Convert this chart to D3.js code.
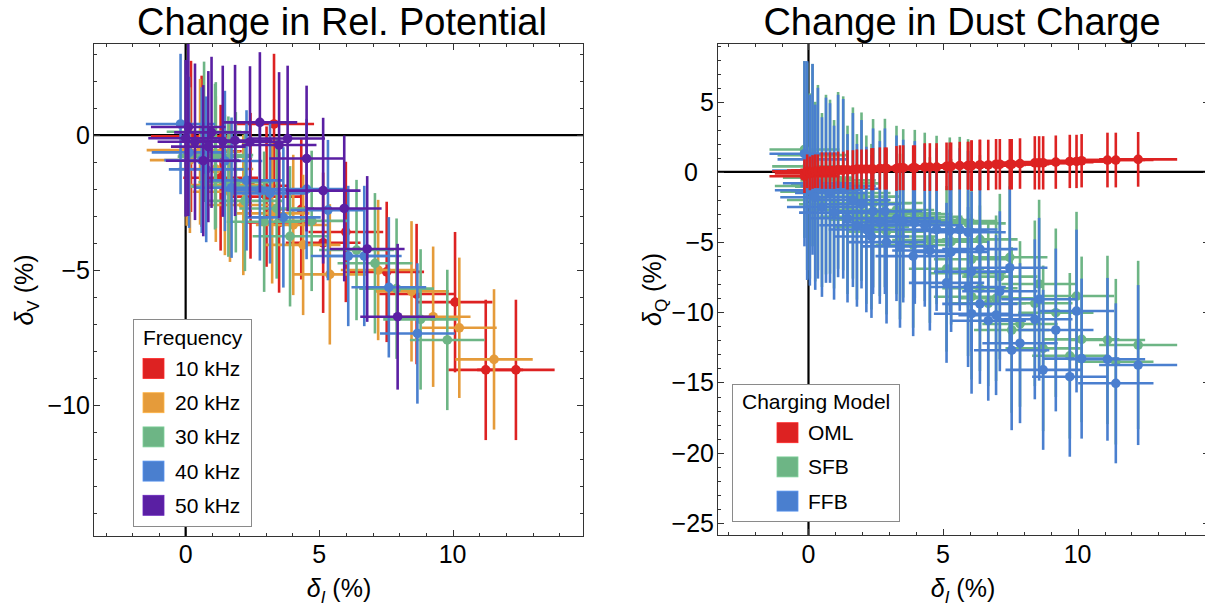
<!DOCTYPE html>
<html><head><meta charset="utf-8">
<script src="https://cdn.jsdelivr.net/npm/d3@7"></script>
<style>
body{margin:0;background:#fff}
svg{font-family:"Liberation Sans",Arial,sans-serif;display:block}
</style></head>
<body><svg id="c" width="1205" height="611"></svg>
<script>
// ---------------- LEFT PANEL DATA (delta_I %, delta_V %) ----------------
const freqLabels = ["10 kHz","20 kHz","30 kHz","40 kHz","50 kHz"];
const freqColors = ["#DD2222","#E59B3A","#6DB585","#4A7FCF","#5A1FA3"];

const f10_dI    = [0.20,0.60,1.31,2.43,3.03,3.31,3.50,4.33,5.15,6.00,7.53,8.65,10.09,11.24,12.37];
const f10_dV    = [-0.05,-0.60,-1.58,-1.88,-2.28,0.41,-3.24,-2.75,-3.99,-3.59,-5.07,-5.89,-6.19,-8.70,-8.70];
const f10_dIerr = [1.5,1.5,1.4,1.4,1.4,1.5,1.4,1.4,1.4,1.4,1.4,1.4,1.4,1.4,1.45];
const f10_dVerr = [2.8,2.8,2.7,2.7,2.6,2.6,2.6,2.6,2.6,2.6,2.6,2.6,2.6,2.6,2.6];

const f20_dI    = [0.04,0.16,0.54,1.13,1.47,1.66,2.16,3.24,4.03,4.40,5.40,7.21,8.46,9.27,10.25,11.55];
const f20_dV    = [-0.56,-0.93,-0.62,-1.26,-1.85,-2.10,-2.59,-2.90,-3.33,-4.07,-5.16,-5.00,-5.79,-6.73,-7.14,-8.31];
const f20_dIerr = [1.5,1.5,1.5,1.4,1.4,1.4,1.4,1.4,1.4,1.4,1.4,1.4,1.4,1.4,1.4,1.45];
const f20_dVerr = [2.8,2.7,2.7,2.7,2.6,2.6,2.6,2.6,2.6,2.6,2.6,2.6,2.6,2.6,2.6,2.6];

const f30_dI    = [0.69,1.10,1.13,1.60,1.88,2.22,2.94,3.41,3.91,4.72,6.40,7.09,7.90,8.80,9.80];
const f30_dV    = [0.12,-0.80,-0.74,-1.91,-1.75,-2.44,-3.21,-2.72,-3.75,-3.18,-4.26,-4.75,-5.69,-6.83,-7.59];
const f30_dIerr = [1.4,1.4,1.4,1.4,1.4,1.4,1.4,1.4,1.4,1.4,1.4,1.4,1.4,1.4,1.4];
const f30_dVerr = [2.6,2.7,2.7,2.6,2.6,2.6,2.6,2.6,2.6,2.6,2.6,2.6,2.6,2.6,2.6];

const f40_dI    = [-0.19,0.13,0.60,0.77,1.47,1.72,2.28,2.78,3.16,3.66,4.53,5.33,6.09,6.69,7.61,8.68];
const f40_dV    = [0.41,-0.64,-0.93,-1.27,-0.96,-1.95,-1.68,-2.05,-2.16,-3.05,-2.00,-2.78,-4.48,-4.48,-5.64,-7.35];
const f40_dIerr = [1.3,1.4,1.4,1.4,1.4,1.4,1.4,1.4,1.4,1.4,1.4,1.4,1.4,1.4,1.4,1.4];
const f40_dVerr = [2.6,2.8,2.7,2.7,2.6,2.6,2.6,2.6,2.6,2.6,2.6,2.6,2.6,2.6,2.6,2.6];

const f50_dI    = [0.00,0.10,0.35,0.66,0.85,0.97,1.39,1.85,2.41,2.78,3.50,3.82,4.53,5.15,5.94,6.80,7.94];
const f50_dV    = [-0.12,0.30,-0.25,-0.95,-0.43,0.10,-0.23,-0.20,-0.25,0.47,-0.37,-0.13,-0.87,-2.06,-2.72,-4.22,-6.73];
const f50_dIerr = [1.4,1.4,1.4,1.4,1.4,1.4,1.4,1.4,1.4,1.4,1.4,1.4,1.4,1.4,1.4,1.4,1.4];
const f50_dVerr = [2.9,3.3,2.9,2.8,2.8,2.8,2.8,2.8,2.8,2.6,2.7,2.7,2.7,2.7,2.7,2.7,2.7];

// ---------------- RIGHT PANEL DATA (delta_I %, delta_Q % per charging model) ----------------
const modelLabels = ["OML","SFB","FFB"];
const modelColors = ["#DD2222","#6DB585","#4A7FCF"];

const q_dI    = [-0.15,-0.05,0.05,0.15,0.25,0.35,0.50,0.65,0.80,0.95,1.10,1.29,1.45,1.65,1.80,1.97,2.15,2.34,2.40,2.65,2.84,2.90,3.27,3.40,3.52,3.89,3.95,4.32,4.51,4.76,5.13,5.25,5.30,5.62,5.93,5.93,6.06,6.06,6.37,6.37,6.68,6.97,7.11,7.48,7.55,7.86,8.41,8.57,8.72,9.19,9.71,9.96,10.15,11.11,11.42,12.25];
const q_dIerr = [1.3,1.3,1.3,1.3,1.3,1.3,1.3,1.3,1.3,1.3,1.4,1.4,1.4,1.4,1.4,1.4,1.4,1.4,1.4,1.4,1.4,1.4,1.4,1.4,1.4,1.4,1.4,1.4,1.4,1.4,1.4,1.4,1.4,1.4,1.4,1.4,1.4,1.4,1.4,1.4,1.4,1.4,1.4,1.4,1.4,1.4,1.4,1.4,1.4,1.4,1.4,1.4,1.4,1.4,1.4,1.45];
const q_OML   = [-0.30,0.05,-0.10,0.00,0.05,0.05,0.10,0.10,0.10,0.10,0.15,0.15,0.15,0.15,0.20,0.20,0.20,0.20,0.20,0.25,0.25,0.25,0.25,0.30,0.30,0.30,0.30,0.35,0.35,0.35,0.40,0.40,0.40,0.45,0.45,0.45,0.45,0.45,0.50,0.50,0.50,0.55,0.55,0.55,0.55,0.60,0.65,0.65,0.65,0.70,0.75,0.75,0.80,0.85,0.85,0.90];
const q_OMLerr= [1.2,1.2,1.2,1.2,1.2,1.2,1.3,1.3,1.3,1.3,1.3,1.3,1.4,1.4,1.4,1.4,1.4,1.5,1.5,1.5,1.5,1.5,1.6,1.6,1.6,1.6,1.6,1.7,1.7,1.7,1.7,1.7,1.7,1.7,1.7,1.7,1.8,1.8,1.8,1.8,1.8,1.8,1.8,1.8,1.8,1.8,1.9,1.9,1.9,1.9,1.9,1.9,1.9,1.95,1.95,1.95];
const q_SFB   = [1.60,0.40,-1.00,1.20,-1.40,-0.40,-2.00,-0.90,-1.05,-2.30,-0.60,-0.81,-2.70,-1.50,-3.20,-1.76,-3.40,-3.90,-2.23,-2.95,-2.21,-4.25,-2.71,-4.60,-2.95,-5.20,-3.00,-3.20,-4.85,-3.42,-6.90,-3.54,-4.97,-3.50,-3.66,-7.22,-6.22,-8.89,-4.80,-8.29,-9.36,-9.00,-7.46,-6.08,-11.26,-10.83,-9.36,-7.98,-12.57,-10.03,-13.10,-8.84,-11.93,-11.97,-13.52,-12.33];
const q_SFBerr= [6.3,7.4,6.6,6.5,6.4,6.6,6.2,6.4,6.2,6.0,6.3,6.2,6.0,6.1,5.9,6.0,6.0,5.9,6.0,5.9,6.0,5.9,6.0,5.9,6.0,5.9,6.0,6.0,5.9,6.0,5.9,6.0,5.9,6.0,6.0,5.9,5.9,5.9,6.0,5.9,5.9,5.9,5.9,6.0,5.9,5.9,5.9,6.0,5.9,6.0,5.9,6.0,5.9,6.0,5.9,6.0];
const q_FFB   = [1.30,0.10,-1.30,0.90,-1.80,-0.80,-2.50,-1.30,-1.50,-2.90,-1.00,-1.20,-3.30,-2.00,-3.80,-2.30,-4.10,-4.60,-2.80,-3.60,-2.80,-5.00,-3.30,-5.30,-3.50,-6.00,-3.60,-3.80,-5.60,-4.10,-7.90,-4.20,-5.70,-4.10,-4.30,-8.20,-7.10,-10.10,-5.50,-9.40,-10.60,-10.20,-8.50,-6.82,-12.70,-12.20,-10.50,-9.07,-14.10,-11.26,-14.59,-9.91,-13.30,-13.35,-15.06,-13.76];
const q_FFBerr= [6.6,7.8,6.8,6.8,6.6,6.8,6.4,6.6,6.4,6.2,6.5,6.4,6.0,6.2,5.8,6.0,5.9,5.8,5.9,5.8,5.9,5.8,5.9,5.8,5.8,5.7,5.8,5.8,5.7,5.8,5.7,5.8,5.7,5.8,5.8,5.7,5.7,5.7,5.8,5.7,5.7,5.7,5.7,5.8,5.7,5.7,5.7,5.8,5.7,5.8,5.7,5.8,5.7,5.8,5.7,5.7];

// ---------------- TICKS / TEXT ----------------
const leftXMajor = [0,5,10], leftYMajor = [-10,-5,0];
const rightXMajor = [0,5,10], rightYMajor = [-25,-20,-15,-10,-5,0,5];
const leftTitle = "Change in Rel. Potential", rightTitle = "Change in Dust Charge";
const leftLegendTitle = "Frequency", rightLegendTitle = "Charging Model";

// ---------------- DRAWING ----------------
const svg = d3.select("#c");
const fmt = v => v < 0 ? "\u2212" + Math.abs(v) : String(v);

function makeSeries(xs, ys, xe, ye){ return xs.map((x,i)=>({x, y:ys[i], xe:xe[i], ye:ye[i]})); }

function panel(cfg){
  const x = d3.scaleLinear().domain(cfg.xd).range(cfg.xr);
  const y = d3.scaleLinear().domain(cfg.yd).range(cfg.yr);
  const [x0,x1] = cfg.xr, [y1,y0] = cfg.yr;
  const g = svg.append("g");
  const cid = "clip" + cfg.id;
  svg.append("clipPath").attr("id", cid).append("rect")
    .attr("x", x0).attr("y", y0).attr("width", x1-x0).attr("height", y1-y0);

  const ax = g.append("g").attr("clip-path", `url(#${cid})`);
  ax.append("line").attr("x1", x0).attr("x2", x1).attr("y1", y(0)).attr("y2", y(0))
    .attr("stroke", "#000").attr("stroke-width", 2.2);
  ax.append("line").attr("x1", x(0)).attr("x2", x(0)).attr("y1", y0).attr("y2", y1)
    .attr("stroke", "#000").attr("stroke-width", 2.2);

  const dg = g.append("g").attr("clip-path", `url(#${cid})`);
  cfg.series.forEach(s => {
    const sg = dg.append("g");
    sg.selectAll("line.h").data(s.pts).join("line").attr("class","h")
      .attr("x1", d=>x(d.x-d.xe)).attr("x2", d=>x(d.x+d.xe))
      .attr("y1", d=>y(d.y)).attr("y2", d=>y(d.y))
      .attr("stroke", s.color).attr("stroke-width", 2.6);
    sg.selectAll("line.v").data(s.pts).join("line").attr("class","v")
      .attr("x1", d=>x(d.x)).attr("x2", d=>x(d.x))
      .attr("y1", d=>y(d.y-d.ye)).attr("y2", d=>y(d.y+d.ye))
      .attr("stroke", s.color).attr("stroke-width", 2.6);
    sg.selectAll("circle").data(s.pts).join("circle")
      .attr("cx", d=>x(d.x)).attr("cy", d=>y(d.y)).attr("r", 4.8)
      .attr("fill", s.color);
  });

  const fg = g.append("g").attr("stroke", "#333").attr("stroke-width", 1).attr("fill","none");
  fg.append("rect").attr("x", x0+0.5).attr("y", y0+0.5).attr("width", x1-x0-1).attr("height", y1-y0-1);
  const xMinor = d3.range(Math.ceil(cfg.xd[0]), Math.floor(cfg.xd[1])+1);
  const yMinor = d3.range(Math.ceil(cfg.yd[0]), Math.floor(cfg.yd[1])+1);
  const tl = v => cfg.xMajor.includes(v) ? 7 : 4;
  const tly = v => cfg.yMajor.includes(v) ? 7 : 4;
  xMinor.forEach(v => {
    const px = Math.round(x(v))+0.5;
    fg.append("line").attr("x1",px).attr("x2",px).attr("y1",y1).attr("y2",y1-tl(v));
    fg.append("line").attr("x1",px).attr("x2",px).attr("y1",y0).attr("y2",y0+tl(v));
  });
  yMinor.forEach(v => {
    const py = Math.round(y(v))+0.5;
    fg.append("line").attr("y1",py).attr("y2",py).attr("x1",x0).attr("x2",x0+tly(v));
    fg.append("line").attr("y1",py).attr("y2",py).attr("x1",x1).attr("x2",x1-tly(v));
  });

  g.selectAll("text.xt").data(cfg.xMajor).join("text").attr("class","xt")
    .attr("x", d=>x(d)).attr("y", 563).attr("text-anchor","middle")
    .attr("font-size", 25).text(fmt);
  g.selectAll("text.yt").data(cfg.yMajor).join("text").attr("class","yt")
    .attr("x", d => x0 - 3 - (d === 0 ? cfg.zeroShift : 0)).attr("y", d=>y(d)+9).attr("text-anchor","end")
    .attr("font-size", 25).text(fmt);

  g.append("text").attr("x", cfg.titleX).attr("y", 35)
    .attr("text-anchor","middle").attr("font-size", 38).text(cfg.title);

  const xl = g.append("text").attr("x", cfg.xLabelX).attr("y", 597).attr("text-anchor","middle").attr("font-size", 25);
  xl.append("tspan").attr("font-style","italic").text("\u03B4");
  xl.append("tspan").attr("font-style","italic").attr("font-size",17).attr("dy",6).text("I");
  xl.append("tspan").attr("dy",-6).text(" (%)");

  const yl = g.append("text").attr("transform", `translate(${cfg.yLabelX},${(y0+y1)/2}) rotate(-90)`)
    .attr("text-anchor","middle").attr("dy", "0.35em").attr("font-size", 25);
  yl.append("tspan").attr("font-style","italic").text("\u03B4");
  yl.append("tspan").attr("font-size",17).attr("dy",6).text(cfg.ySub);
  yl.append("tspan").attr("dy",-6).text(" (%)");

  const L = cfg.legend;
  const lg = g.append("g");
  lg.append("rect").attr("x", L.x+0.5).attr("y", L.y+0.5).attr("width", L.w).attr("height", L.h)
    .attr("fill","#fff").attr("stroke","#8a8a8a").attr("stroke-width",1);
  lg.append("text").attr("x", L.tx).attr("y", L.ty).attr("font-size", 21).text(L.title);
  L.items.forEach((it,i) => {
    const cy = L.y0 + i*L.dy;
    lg.append("rect").attr("x", L.sx).attr("y", cy-10).attr("width", 21).attr("height", 20)
      .attr("fill", it.color).attr("stroke", d3.color(it.color).brighter(0.4)).attr("stroke-width", 0.8);
    lg.append("text").attr("x", L.lx).attr("y", cy+7.5).attr("font-size", 21).text(it.label);
  });
}

const leftSeries = [
  makeSeries(f10_dI,f10_dV,f10_dIerr,f10_dVerr),
  makeSeries(f20_dI,f20_dV,f20_dIerr,f20_dVerr),
  makeSeries(f30_dI,f30_dV,f30_dIerr,f30_dVerr),
  makeSeries(f40_dI,f40_dV,f40_dIerr,f40_dVerr),
  makeSeries(f50_dI,f50_dV,f50_dIerr,f50_dVerr)
].map((pts,i)=>({pts, color: freqColors[i]}));

panel({
  id: "L", xd: [-3.47, 14.92], xr: [93, 584], yd: [-14.89, 3.41], yr: [537, 43],
  xMajor: leftXMajor, yMajor: leftYMajor, series: leftSeries, zeroShift: 0,
  title: leftTitle, titleX: 342, xLabelX: 339, yLabelX: 24, ySub: "V",
  legend: {x:133, y:319, w:118, h:207, title:leftLegendTitle, tx:143, ty:345,
    sx:143, lx:175, y0:368.5, dy:34.2,
    items: freqLabels.map((l,i)=>({label:l, color:freqColors[i]}))}
});

const rightSeriesByModel = [
  makeSeries(q_dI,q_OML,q_dIerr,q_OMLerr),
  makeSeries(q_dI,q_SFB,q_dIerr,q_SFBerr),
  makeSeries(q_dI,q_FFB,q_dIerr,q_FFBerr)
].map((pts,i)=>({pts, color: modelColors[i]}));
const rightSeries = [rightSeriesByModel[1], rightSeriesByModel[2], rightSeriesByModel[0]];

panel({
  id: "R", xd: [-3.4, 14.92], xr: [717, 1210], yd: [-25.94, 9.19], yr: [536, 43],
  xMajor: rightXMajor, yMajor: rightYMajor, series: rightSeries, zeroShift: 16,
  title: rightTitle, titleX: 962, xLabelX: 963, yLabelX: 652, ySub: "Q",
  legend: {x:732, y:384, w:167, h:137, title:rightLegendTitle, tx:742, ty:409,
    sx:777, lx:808, y0:432.7, dy:34.2,
    items: modelLabels.map((l,i)=>({label:l, color:modelColors[i]}))}
});
</script>
</body></html>
